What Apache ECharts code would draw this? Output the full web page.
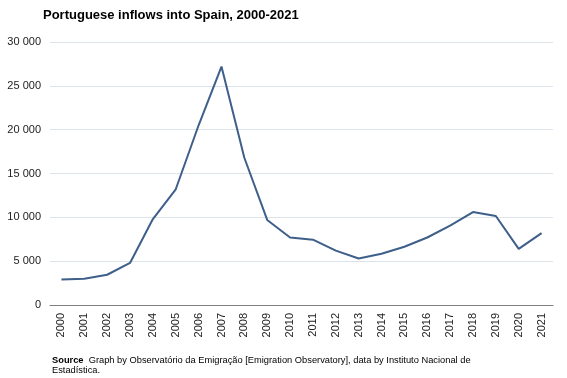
<!DOCTYPE html>
<html><head><meta charset="utf-8">
<script src="https://cdn.jsdelivr.net/npm/echarts@6/dist/echarts.min.js"></script>
<style>html,body{margin:0;padding:0;background:#fff}#c{width:567px;height:378px}</style>
</head><body><div id="c"></div>
<script>
const years = ['2000','2001','2002','2003','2004','2005','2006','2007','2008','2009','2010','2011','2012','2013','2014','2015','2016','2017','2018','2019','2020','2021'];
const inflows = [2900,3000,3450,4800,9800,13200,20500,27200,16800,9700,7700,7450,6200,5300,5850,6650,7700,9050,10600,10150,6400,8200];
const yTicks = [0,5000,10000,15000,20000,25000,30000];
const titleText = 'Portuguese inflows into Spain, 2000-2021';
const sourceLabel = 'Source';
const sourceText = '  Graph by Observatório da Emigração [Emigration Observatory], data by Instituto Nacional de';
const sourceText2 = 'Estadística.';

const chart = echarts.init(document.getElementById('c'));
chart.setOption({
  animation: false,
  textStyle: {fontFamily: 'Liberation Sans, Arial, sans-serif'},
  title: {text: titleText, left: 38, top: 4,
    textStyle: {fontSize: 13, fontWeight: 'bold', color: '#000', fontFamily: 'Liberation Sans, Arial, sans-serif'}},
  grid: {left: 50, right: 14, top: 42, bottom: 73},
  xAxis: {type: 'category', data: years, boundaryGap: true,
    axisLine: {lineStyle: {color: '#808080', width: 1}},
    axisTick: {show: false},
    axisLabel: {rotate: 90, fontSize: 11, color: '#222', margin: 8, interval: 0}},
  yAxis: {type: 'value', min: yTicks[0], max: yTicks[yTicks.length-1], interval: 5000,
    axisLine: {show: false}, axisTick: {show: false},
    splitLine: {lineStyle: {color: '#dde3ea', width: 1}},
    axisLabel: {fontSize: 11, color: '#222', margin: 9,
      formatter: v => String(v).replace(/\B(?=(\d{3})+(?!\d))/g, ' ')}},
  series: [{type: 'line', data: inflows, symbol: 'none',
    lineStyle: {color: '#3e5f8a', width: 2}}],
  graphic: [{type: 'text', left: 52, top: 356,
    style: {text: '{b|' + sourceLabel + '}{n|' + sourceText + '}\n{n|' + sourceText2 + '}',
      rich: {b: {fontWeight: 'bold', fontSize: 9.3, fill: '#000', fontFamily: 'Liberation Sans, Arial, sans-serif', lineHeight: 10},
             n: {fontSize: 9.3, fill: '#000', fontFamily: 'Liberation Sans, Arial, sans-serif', lineHeight: 10}}}}]
});
</script></body></html>
